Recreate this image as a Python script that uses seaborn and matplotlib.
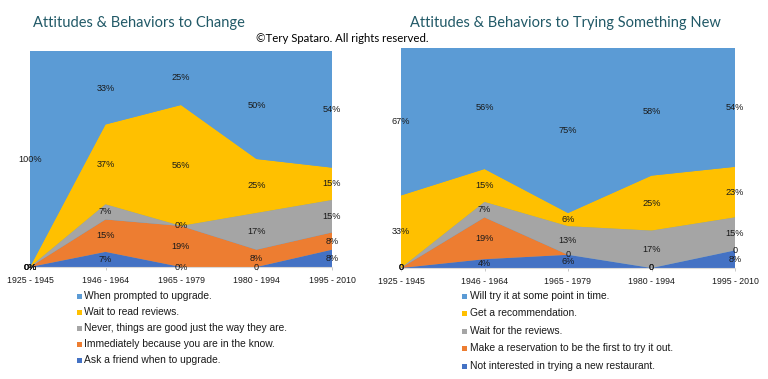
import matplotlib
matplotlib.use("Agg")
import matplotlib.pyplot as plt
from matplotlib.patches import Rectangle
import seaborn as sns
import numpy as np

# ---------------- data ----------------
categories = ["1925 - 1945", "1946 - 1964", "1965 - 1979", "1980 - 1994", "1995 - 2010"]

# Left chart (top-to-bottom order of the stack / legend order)
left_title = "Attitudes & Behaviors to Change"
left_names = ["When prompted to upgrade.",
              "Wait to read reviews.",
              "Never, things are good just the way they are.",
              "Immediately because you are in the know.",
              "Ask a friend when to upgrade."]
left_prompted = [100, 33, 25, 50, 54]
left_wait = [0, 37, 56, 25, 15]
left_never = [0, 7, 0, 17, 15]
left_immediately = [0, 15, 19, 8, 8]
left_ask = [0, 7, 0, 0, 8]
left_labels = [["100%", "33%", "25%", "50%", "54%"],
               ["0%", "37%", "56%", "25%", "15%"],
               ["0%", "7%", "0%", "17%", "15%"],
               ["0%", "15%", "19%", "8%", "8%"],
               ["0%", "7%", "0%", "0", "8%"]]

# Right chart
right_title = "Attitudes & Behaviors to Trying Something New"
right_names = ["Will try it at some point in time.",
               "Get a recommendation.",
               "Wait for the reviews.",
               "Make a reservation to be the first to try it out.",
               "Not interested in trying a new restaurant."]
right_will = [67, 56, 75, 58, 54]
right_recommend = [33, 15, 6, 25, 23]
right_reviews = [0, 7, 13, 17, 15]
right_reservation = [0, 19, 0, 0, 0]
right_not = [0, 4, 6, 0, 8]
right_labels = [["67%", "56%", "75%", "58%", "54%"],
                ["33%", "15%", "6%", "25%", "23%"],
                ["0", "7%", "13%", "17%", "15%"],
                ["0", "19%", "0", "0", "0"],
                ["0", "4%", "6%", "0", "8%"]]

copyright_text = "\u00a9Tery Spataro. All rights reserved."

# ---------------- style ----------------
sns.set_style("white")
plt.rcParams["font.family"] = ["Liberation Sans", "DejaVu Sans"]
colors = sns.color_palette(["#5B9BD5", "#FFC000", "#A5A5A5", "#ED7D31", "#4472C4"])
W, H = 768, 379
fig = plt.figure(figsize=(W / 100, H / 100), dpi=100)


def fx(px):
    return px / W


def fy(py):
    return 1 - py / H


def draw(ax, series, labels):
    x = np.arange(len(categories))
    bottom_up = [np.array(s, dtype=float) for s in series[::-1]]
    cols = list(colors)[::-1]
    ax.set_facecolor(colors[0])
    ax.stackplot(x, *bottom_up, colors=cols, linewidth=0, edgecolor="none")
    cum = np.zeros(len(x))
    for vals, labs in zip(bottom_up, labels[::-1]):
        mid = cum + vals / 2
        for xi, yi, t in zip(x, mid, labs):
            ax.text(xi, yi, t, ha="center", va="center", fontsize=6.6,
                    color="#1a1a1a", clip_on=False, zorder=5)
        cum = cum + vals
    ax.set_xlim(0, len(x) - 1)
    ax.set_ylim(0, 100)
    ax.set_yticks([])
    ax.set_xticks(x, categories)
    ax.tick_params(axis="x", length=2.5, width=0.6, color="#BFBFBF",
                   labelsize=6.3, pad=4, labelcolor="#1a1a1a", bottom=True)
    for s in ["top", "left", "right"]:
        ax.spines[s].set_visible(False)
    ax.spines["bottom"].set_color("#D9D9D9")
    ax.spines["bottom"].set_linewidth(0.8)


axL = fig.add_axes([fx(30), fy(267), fx(302), 216 / H])
draw(axL, [left_prompted, left_wait, left_never, left_immediately, left_ask], left_labels)

axR = fig.add_axes([fx(401), fy(268), fx(334), 220 / H])
draw(axR, [right_will, right_recommend, right_reviews, right_reservation, right_not], right_labels)

# titles
title_color = "#215967"
fig.text(fx(33), fy(23), left_title, fontsize=10.5, color=title_color,
         family=["Lato", "DejaVu Sans"], ha="left", va="center")
fig.text(fx(410), fy(23), right_title, fontsize=10.5, color=title_color,
         family=["Lato", "DejaVu Sans"], ha="left", va="center")
fig.text(fx(256), fy(38), copyright_text, fontsize=8.2, color="black",
         family=["Lato", "DejaVu Sans"], ha="left", va="center")


# legends
def legend(names, mx, tx, ys):
    for name, c, y in zip(names, colors, ys):
        fig.patches.append(Rectangle((fx(mx), fy(y + 2.5)), fx(5), 5 / H,
                                     transform=fig.transFigure, facecolor=c,
                                     edgecolor="none"))
        fig.text(fx(tx), fy(y), name, fontsize=7.4, color="#1a1a1a",
                 ha="left", va="center")


legend(left_names, 77, 84, [296, 312, 328, 344, 360])
legend(right_names, 462, 470, [296, 313, 331, 348, 366])

fig.savefig("out.png", dpi=100)
